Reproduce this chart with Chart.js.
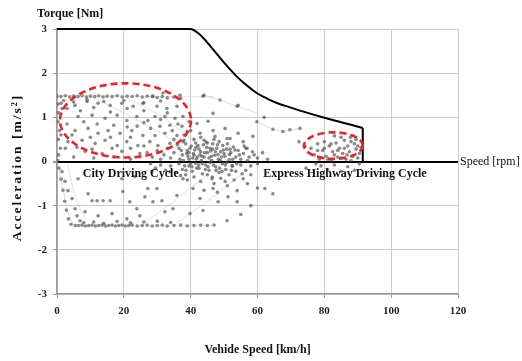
<!DOCTYPE html>
<html>
<head>
<meta charset="utf-8">
<script src="https://cdn.jsdelivr.net/npm/chart.js@4.4.1/dist/chart.umd.min.js"></script>
<style>
  html, body { margin: 0; padding: 0; background: #fff; }
</style>
</head>
<body>
<canvas id="myChart" width="522" height="361"></canvas>
<script>
// torque envelope
var torqueSpeed  = [0, 40, 42, 44, 46, 48, 50, 52, 54, 56, 58, 60, 63, 66, 70, 75, 80, 85, 91.5];
var torqueValues = [3, 3, 2.92, 2.78, 2.6, 2.42, 2.24, 2.07, 1.91, 1.77, 1.65, 1.54, 1.42, 1.32, 1.22, 1.1, 0.99, 0.89, 0.76];
var torqueDrop   = [[91.5, 0.76], [91.5, 0]];

// city driving cycle points [speed, acceleration]
var cityPoints = [
  [0,1.48],[1.2,1.47],[2.5,1.49],[3.8,1.46],[5,1.48],[6.3,1.47],[7.5,1.49],[8.8,1.46],[10,1.48],[11.3,1.47],
  [12.5,1.49],[13.8,1.46],[15,1.48],[16.5,1.47],[18,1.49],[19.5,1.46],[21,1.48],[22.5,1.47],[24,1.49],[25.5,1.46],
  [27,1.48],[28.5,1.47],[30,1.45],[31.5,1.47],[33,1.44],[35,1.46],[37,1.43],[44,1.5],[48.8,1.39],[53.9,1.25],
  [2,1.38],[5,1.35],[9,1.4],[14,1.36],[20,1.38],[26,1.33],[31,1.37],
  [1.2,1.32],[5.4,1.27],[9,1.36],[12.3,1.32],[15.9,1.27],[19.4,1.32],[22.8,1.25],[25.7,1.32],
  [6.3,1.02],[10.5,1.05],[14.4,0.98],[18,1.05],[20.9,0.93],[23.9,1.02],[27.2,0.93],
  [5.4,0.7],[9.3,0.75],[12.3,0.64],[15.3,0.7],[18.9,0.64],[22.4,0.7],[25.7,0.59],
  [3.3,0.45],[7.5,0.48],[11.4,0.41],[14.4,0.48],[18,0.36],[20.9,0.45],[24.2,0.36],[27.8,0.45],
  [8.4,0.23],[13.5,0.18],[19.4,0.23],[24.8,0.18],
  [3,1.2],[7,1.15],[11,1.22],[16,1.12],[21,1.2],[3,0.85],[8,0.9],[12,0.85],[17,0.82],[21,0.78],
  [26,0.88],[4.5,0.6],[10,0.55],[16,0.55],[22,0.55],[2.5,0.3],[6,0.32],[10.5,0.28],[16.5,0.3],[22,0.3],
  [26,0.35],[5,0.1],[11,0.08],[17,0.1],[22,0.05],
  [28.7,1.48],[31.7,1.55],[36.8,1.5],[29.9,1.25],[32.9,1.2],[35.9,1.25],[29.3,1.02],[32.3,1.02],[35.3,0.98],[37.7,1.02],
  [30.8,0.8],[33.8,0.82],[37.4,0.8],[29.3,0.59],[32.3,0.64],[35.9,0.59],[38.9,0.68],[30.2,0.36],[33.8,0.41],[37.7,0.45],
  [43.7,1.48],[46.7,1.09],[41.9,0.86],[45.2,0.91],[50.3,0.75],[54.2,0.64],[42.8,0.64],[47.3,0.57],[51.8,0.52],[55.7,0.45],
  [54.2,1.27],[46.7,0.7],[50.9,0.52],[58.6,0.57],[56.9,0.3],
  [38,0.6],[40,0.7],[43,0.55],[35,0.5],[34.5,0.7],[36.2,0.85],[39.5,0.9],[31,0.95],[33,1.1],[28,0.75],
  [26,1.15],[24,0.8],
  [36.5,0.3],[37.5,0.15],[38.5,0.4],[39,0.25],[39.5,0.05],[40.2,0.35],[40.8,0.18],[41.5,0.42],[42,0.1],[42.5,0.28],
  [43.2,0.02],[43.8,0.38],[44.2,0.2],[44.8,0.32],[45.5,0.08],[46,0.24],[46.6,0.4],[47.2,0.14],[47.8,0.3],[48.3,0.05],
  [49,0.22],[49.6,0.36],[50.2,0.12],[50.8,0.28],[51.5,0.04],[52,0.2],[52.8,0.33],[53.5,0.1],[54.2,0.25],[55,0.05],
  [55.8,0.18],[56.5,0.3],[57.5,0.1],[58.5,0.22],[60,0.08],[61.5,0.2],[63,0.05],[38,0.48],[41,0.5],[44,0.48],
  [47,0.5],[35,0.2],[34,0.08],[33,0.3],[32,0.15],[31,0.05],[30,0.25],[28.5,0.1],[27,0.2],[42.8,0.15],
  [45,0.42],[48.5,0.45],[39.2,0.12],[41.7,0.05],[46.3,0.02],
  [36,0.38],[36.8,0.05],[37.2,0.25],[38.2,-0.1],[38.8,0.18],[39.8,0.3],[40,-0.05],[40.6,0.08],[41.2,0.26],[41.8,-0.15],
  [42.2,0.36],[43,0.22],[43.5,-0.05],[44,0.1],[44.6,0.44],[45.2,-0.12],[45.8,0.3],[46.2,0.12],[46.8,-0.08],[47.4,0.22],
  [48,0.38],[48.6,-0.15],[49.2,0.1],[49.8,0.26],[50.4,-0.08],[51,0.4],[51.6,0.16],[52.2,-0.2],[52.6,0.05],[53.2,0.26],
  [53.8,-0.05],[54.6,0.15],[55.4,-0.28],[56,0.35],[57,0.02],[58,-0.3],[59,0.15],
  [37.8,0.02],[38.6,-0.2],[39.4,0.2],[40.4,-0.12],[41,0.14],[41.6,0.32],[42.4,-0.08],[43.4,0.12],[44.4,-0.18],[45,0.2],
  [45.8,-0.02],[46.6,0.28],[47.6,-0.2],[48.2,0.16],[48.8,0.02],[49.4,-0.22],[50,0.18],[50.8,-0.02],[51.8,0.28],[52.4,-0.1],
  [28,-0.05],[29.5,-0.15],[31,-0.08],[32.5,-0.2],[34,-0.1],[35.5,-0.25],[36.5,-0.05],[37.5,-0.18],[38.5,-0.3],[39.5,-0.1],
  [40.5,-0.22],[41.5,-0.04],[42.5,-0.15],[43.5,-0.28],[44.5,-0.08],[45.5,-0.2],[46.5,-0.35],[47.5,-0.12],[48.5,-0.25],[49.5,-0.05],
  [50.5,-0.18],[51.5,-0.3],[52.5,-0.1],[53.5,-0.22],[55,-0.08],[56.5,-0.2],[58,-0.1],[60,-0.05],
  [37,-0.32],[39,-0.42],[41,-0.35],[43,-0.45],[45,-0.3],[47,-0.5],[49,-0.38],[51,-0.55],[53,-0.42],[44,-0.65],
  [48,-0.7],
  [29.9,-0.61],[31.4,-0.89],[35.9,-0.77],[37.7,-0.39],[40.7,-0.61],[42.8,-0.84],[43.7,-1.11],[46.4,-0.39],[46.7,-0.61],[48.2,-0.91],
  [50.3,-0.45],[51.2,-0.8],[53.9,-0.66],[53.9,-0.91],[55.7,-0.39],[50.9,-1.34],[32.3,-1.14],[34.7,-1.07],[39.8,-1.18],[28.7,-0.91],
  [33.8,-0.23],[28.4,-0.23],[57,-0.5],[60,-0.6],[62.2,-0.61],[64.6,-0.73],[58,-1.0],[55,-1.2],
  [1.5,-0.23],[2.4,-0.45],[3.3,-0.66],[4.5,-0.84],[5.4,-1.07],[6,-1.23],[6.9,-1.34],[6.3,-0.39],[9.3,-0.73],[10.5,-0.89],
  [12,-0.89],[13.8,-0.89],[15.9,-0.89],[8.4,-1.14],[12.3,-1.23],[16.5,-1.18],[19.7,-0.68],[21.8,-0.91],[23.9,-1.07],[24.8,-1.23],
  [26.3,-0.8],[27.2,-0.61],[19.4,-0.39],[23.3,-0.34],[20.9,-1.3],
  [5.5,-1.45],[6.5,-1.45],[7.5,-1.44],[8.5,-1.46],[9.5,-1.45],[10.5,-1.44],[11.5,-1.46],[12.5,-1.45],[13.5,-1.44],[14.5,-1.46],
  [15.5,-1.45],[16.5,-1.44],[17.5,-1.46],[18.5,-1.45],[19.5,-1.44],[20.5,-1.46],[21.5,-1.45],[22.5,-1.44],[24,-1.46],[25.5,-1.45],
  [27,-1.44],[28.5,-1.46],[30,-1.45],[31.5,-1.44],[33,-1.46],[35,-1.45],[37,-1.44],[39,-1.46],[41,-1.45],[43,-1.44],
  [45,-1.45],[47,-1.44],
  [8,-1.38],[11,-1.37],[14,-1.4],[18,-1.36],[22,-1.39],[26,-1.37],[30,-1.35],[34,-1.38],
  [0.3,1.3],[0.5,1.1],[0.3,0.9],[0.8,0.7],[0.4,0.5],[1,0.3],[0.5,0.15],[1.5,1.2],[1.2,0.6],[0.6,-0.15],
  [1.2,-0.4],[1.8,-0.65],[2.3,-0.9],[2.8,-1.1],[3.4,-1.3],[4.2,-1.42],[0.2,0.02]
];

// express highway driving cycle points
var highwayPoints = [
  [76,0.3],[77,0.15],[78,0.4],[78.5,0.05],[79.5,0.25],[80,0.45],[80.5,0.12],[81.5,0.35],[82,0.02],[82.5,0.22],
  [83.5,0.42],[84,0.1],[84.5,0.3],[85.5,0.18],[86,0.48],[86.5,0.05],[87,0.35],[87.5,0.22],[88.5,0.12],[89,0.4],
  [89.5,0.28],[90,0.08],[90.5,0.18],[91,0.32],[85,0.55],[87.8,0.55],[83,0.58],[79,-0.1],[81,-0.18],[83,-0.08],
  [85,-0.22],[87,-0.12],[89,-0.2],[90.5,-0.05],[77.5,-0.05],[74,0.34],[72.4,0.45],[74.5,-0.15],
  [78,0.25],[80,0.3],[82,0.4],[84,0.25],[86,0.3],[88,0.45],[90,0.35],[81,0.05],[85,0.08],[88,0.02],
  [83,0.15],[86.8,0.15],[89.5,0.5],
  [59.8,0.9],[64.6,0.73],[67.6,0.68],[69.7,0.72],[72.7,0.75],[74.2,0.34],[62,1.0]
];

// faint traces joining the samples (null breaks a trace)
var traceLines = [
  [0,1.5],[47,1.46],null,
  [5,-1.46],[47,-1.45],null,
  [0,0],[1.5,-0.5],[3,-1.1],[5,-1.46],null,
  [3,0],[5,-0.7],[7,-1.1],[9,-1.35],null,
  [44,1.5],[48.8,1.39],[53.9,1.25],[60,1.1],null,
  [59.8,0.9],[64.6,0.73],[67.6,0.68],[72.7,0.75],null,
  [10,1.48],[20,1.1],[30,0.7],[40,0.2],null,
  [20,1.48],[32,1.0],[42,0.4],[50,0],null,
  [25,-1.45],[35,-0.9],[45,-0.3],null,
  [35,-1.45],[45,-0.9],[55,-0.3]
];

// red dashed ellipses: [centre speed, centre accel, radius speed, radius accel]
var ellipses = [[20.5, 0.93, 19.6, 0.84], [82.7, 0.36, 8.8, 0.3]];

function toXY(list) {
  return list.map(function (p) { return p ? { x: p[0], y: p[1] } : { x: NaN, y: NaN }; });
}

var torqueData = torqueSpeed.map(function (s, i) { return { x: s, y: torqueValues[i] }; });

var serif = '"Liberation Serif", "Times New Roman", serif';

var extras = {
  id: 'extras',
  afterDatasetsDraw: function (chart) {
    var c = chart.ctx;
    var xs = chart.scales.x, ys = chart.scales.y;
    c.save();
    // ellipses
    c.strokeStyle = '#e8262a';
    c.lineWidth = 2.6;
    c.setLineDash([7, 4]);
    ellipses.forEach(function (e) {
      var cx = xs.getPixelForValue(e[0]);
      var cy = ys.getPixelForValue(e[1]);
      var rx = Math.abs(xs.getPixelForValue(e[0] + e[2]) - cx);
      var ry = Math.abs(ys.getPixelForValue(e[1] + e[3]) - cy);
      c.beginPath();
      c.ellipse(cx, cy, rx, ry, 0, 0, Math.PI * 2);
      c.stroke();
    });
    c.setLineDash([]);

    c.fillStyle = '#111';
    c.textBaseline = 'middle';
    c.textAlign = 'left';
    c.font = 'bold 12px ' + serif;
    c.fillText('City Driving Cycle', xs.getPixelForValue(7.7), ys.getPixelForValue(-0.28));
    c.fillText('Express Highway Driving Cycle', xs.getPixelForValue(61.7), ys.getPixelForValue(-0.28));

    c.fillText('Torque [Nm]', 37, 14);
    c.font = '12px ' + serif;
    c.fillText('Speed [rpm]', xs.right + 2, ys.getPixelForValue(0));

    // y axis title, letter spaced like the original
    c.translate(18, (ys.top + ys.bottom) / 2 + 6);
    c.rotate(-Math.PI / 2);
    c.textAlign = 'center';
    c.font = 'bold 13.5px ' + serif;
    c.letterSpacing = '2px';
    c.fillText('Acceleration [m/s²]', 0, 0);
    c.restore();
  }
};

var ctx = document.getElementById('myChart').getContext('2d');
var myChart = new Chart(ctx, {
  type: 'scatter',
  data: {
    datasets: [
      {
        label: 'Traces',
        data: toXY(traceLines),
        showLine: true,
        spanGaps: false,
        borderColor: 'rgba(150,150,150,0.3)',
        borderWidth: 1,
        pointRadius: 0
      },
      {
        label: 'Torque',
        data: torqueData,
        showLine: true,
        borderColor: '#000',
        borderWidth: 2,
        pointRadius: 0,
        cubicInterpolationMode: 'monotone',
        clip: 4
      },
      {
        label: 'Torque drop',
        data: toXY(torqueDrop),
        showLine: true,
        borderColor: '#000',
        borderWidth: 2,
        pointRadius: 0
      },
      {
        label: 'City',
        data: toXY(cityPoints),
        pointRadius: 1.8,
        pointBorderWidth: 0,
        backgroundColor: 'rgba(75,75,75,0.65)'
      },
      {
        label: 'Highway',
        data: toXY(highwayPoints),
        pointRadius: 1.8,
        pointBorderWidth: 0,
        backgroundColor: 'rgba(75,75,75,0.65)'
      }
    ]
  },
  options: {
    responsive: false,
    animation: false,
    layout: { padding: { left: 0, top: 29, right: 64, bottom: 0 } },
    plugins: {
      legend: { display: false },
      tooltip: { enabled: false }
    },
    scales: {
      x: {
        type: 'linear',
        min: 0,
        max: 120,
        afterFit: function (s) { s.height = 67; },
        ticks: { stepSize: 20, padding: 7, color: '#222', font: { family: serif, size: 11, weight: 'bold' } },
        grid: { color: '#cccccc', tickLength: 4, tickColor: '#999' },
        border: { color: '#999', width: 1.5 },
        title: {
          display: true,
          text: 'Vehide Speed [km/h]',
          color: '#111',
          font: { family: serif, size: 12, weight: 'bold' },
          padding: { top: 4, bottom: 4 }
        }
      },
      y: {
        min: -3,
        max: 3,
        afterFit: function (s) { s.width = 57; },
        ticks: { stepSize: 1, padding: 6, color: '#222', font: { family: serif, size: 11, weight: 'bold' } },
        grid: {
          color: function (c) { return c.tick && c.tick.value === 0 ? '#000' : '#cccccc'; },
          lineWidth: function (c) { return c.tick && c.tick.value === 0 ? 2 : 1; },
          tickLength: 4,
          tickColor: '#999'
        },
        border: { color: '#999', width: 1.5 }
      }
    }
  },
  plugins: [extras]
});
</script>
</body>
</html>
